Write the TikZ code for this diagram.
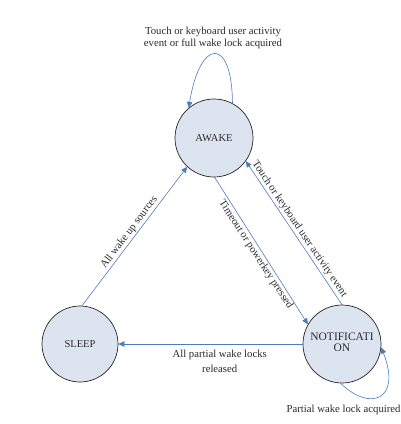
\documentclass[tikz,border=0pt]{standalone}
\usepackage{fontspec}
\setmainfont{Liberation Serif}
\usetikzlibrary{arrows.meta}
\definecolor{statefill}{HTML}{DCE4F0}
\definecolor{edgeblue}{HTML}{4A7EBB}
\definecolor{txt}{HTML}{2A2A2A}
\begin{document}
\begin{tikzpicture}[x=1pt,y=-1pt,
  state/.style={circle, draw=black!85, line width=0.7pt, fill=statefill, minimum size=78pt, inner sep=0pt, text=txt, font=\fontsize{10.5}{12}\selectfont, align=center},
  trans/.style={draw=edgeblue, line width=0.6pt, -{Triangle[length=6pt,width=5.5pt]}},
  lbl/.style={font=\fontsize{10.7}{12}\selectfont, text=txt, inner sep=1.5pt}]
\useasboundingbox (0,0) rectangle (400,424);
\fill[white] (0,0) rectangle (400,424);
\node[state] (awake) at (214,138) {AWAKE};
\node[state, minimum size=76pt] (sleep) at (80,344) {SLEEP};
\node[state, font=\fontsize{11.5}{12}\selectfont] (notif) at (342,344) {\raisebox{4pt}{\begin{tabular}{@{}c@{}}NOTIFICATI\\[-1pt]ON\end{tabular}}};

\draw[trans] (sleep.87) -- node[lbl, midway, rotate=53, anchor=south] {All wake up sources} (awake.227);
\draw[trans] (awake.271) -- node[lbl, midway, rotate=-57, anchor=north] {Timeout or powerkey pressed} (notif.150);
\draw[trans] (notif.90) -- node[lbl, midway, rotate=-56, anchor=south] {Touch or keyboard user activity event} (awake.324);
\draw[trans] (notif.180) -- node[lbl, pos=0.45, anchor=north, yshift=-4pt, align=center, font=\fontsize{10.7}{15}\selectfont] {All partial wake locks\\released} (sleep.0);

\draw[trans] (awake.62) .. controls (232,36) and (200,38) .. (awake.130);
\node[lbl, align=center] (toplbl) at (213,38) {Touch or keyboard user activity\\event or full wake lock acquired};

\draw[trans] (notif.268) .. controls (370,412) and (402,400) .. (notif.355);
\node[lbl, anchor=west] (plbl) at (285,410) {Partial wake lock acquired;};
\end{tikzpicture}
\end{document}
